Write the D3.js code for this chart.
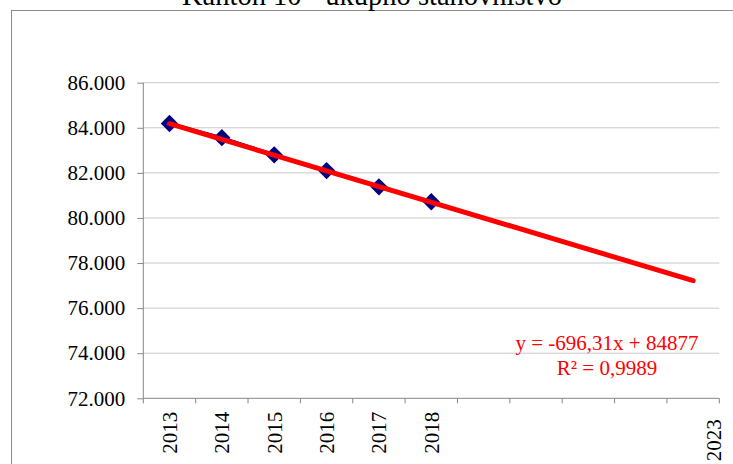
<!DOCTYPE html>
<html lang="bs">
<head>
  <meta charset="UTF-8">
  <title>Kanton 10 - ukupno stanovništvo</title>
  <script src="https://d3js.org/d3.v7.min.js"></script>
  <style>
    body {
      margin: 0;
      background: #fff;
      overflow: hidden;
    }
    svg {
      display: block;
    }
    svg text {
      font-family: "Liberation Serif", "Times New Roman", serif;
    }
    .grid line {
      stroke: #c8c8c8;
      stroke-width: 1;
    }
    .axis-line {
      stroke: #868686;
      stroke-width: 1;
    }
  </style>
</head>
<body>
  <svg id="chart"></svg>

  <script>
    // categories on the x axis (trend forecast runs to 2023)
    const years = ["2013", "2014", "2015", "2016", "2017", "2018",
                   "2019", "2020", "2021", "2022", "2023"];
    const shownYears = ["2013", "2014", "2015", "2016", "2017", "2018", "2023"];
    // population values
    const dataYears = ["2013", "2014", "2015", "2016", "2017", "2018"];
    const population = [84190, 83560, 82800, 82100, 81380, 80720];
    // linear trend from the chart label
    const trendSlope = -696.31;
    const trendIntercept = 84877;
    const trendText = ["y = -696,31x + 84877", "R\u00b2 = 0,9989"];
    const yTicks = [72000, 74000, 76000, 78000, 80000, 82000, 84000, 86000];
    const title = "Kanton 10 - ukupno stanovništvo";

    const W = 733, H = 464;
    const plot = { left: 143.3, right: 719.3, top: 82.7, bottom: 398.3 };

    const svg = d3.select("#chart")
      .attr("width", W)
      .attr("height", H);

    // outer chart frame (runs off the right/bottom edge)
    svg.append("rect")
      .attr("x", 11.5)
      .attr("y", 10.5)
      .attr("width", W + 20)
      .attr("height", H + 20)
      .attr("fill", "#fff")
      .attr("stroke", "#8c8c8c");

    svg.append("text")
      .attr("x", 372)
      .attr("y", 4.5)
      .attr("text-anchor", "middle")
      .attr("font-size", 28.5)
      .attr("fill", "#000")
      .text(title);

    const x = d3.scaleBand()
      .domain(years)
      .range([plot.left, plot.right])
      .padding(0);

    const y = d3.scaleLinear()
      .domain([72000, 86000])
      .range([plot.bottom, plot.top]);

    const fmt = d3.formatLocale({
      decimal: ",", thousands: ".", grouping: [3], currency: ["", ""]
    }).format(",");

    // horizontal gridlines
    svg.append("g")
      .attr("class", "grid")
      .selectAll("line")
      .data(yTicks.filter(d => d > 72000))
      .join("line")
      .attr("x1", plot.left)
      .attr("x2", plot.right)
      .attr("y1", d => y(d))
      .attr("y2", d => y(d));

    // y axis
    const yAxis = svg.append("g")
      .attr("transform", `translate(${plot.left},0)`)
      .call(d3.axisLeft(y).tickValues(yTicks).tickSize(6).tickPadding(12).tickFormat(fmt))
      .attr("font-family", null)
      .attr("font-size", 21);
    yAxis.select(".domain").remove();
    yAxis.selectAll(".tick line").attr("stroke", "#868686");
    yAxis.selectAll(".tick text").attr("fill", "#000");

    svg.append("line")
      .attr("class", "axis-line")
      .attr("x1", plot.left).attr("x2", plot.left)
      .attr("y1", plot.top).attr("y2", plot.bottom);
    svg.append("line")
      .attr("class", "axis-line")
      .attr("x1", plot.left).attr("x2", plot.right)
      .attr("y1", plot.bottom).attr("y2", plot.bottom);

    // x tick marks at category boundaries
    const bounds = years.map(d => x(d)).concat([x(years[years.length - 1]) + x.bandwidth()]);
    svg.append("g")
      .selectAll("line")
      .data(bounds)
      .join("line")
      .attr("class", "axis-line")
      .attr("x1", d => d).attr("x2", d => d)
      .attr("y1", plot.bottom).attr("y2", plot.bottom + 5);

    // rotated year labels
    const lastYear = years[years.length - 1];
    svg.append("g")
      .selectAll("text")
      .data(shownYears)
      .join("text")
      .attr("transform", d => {
        const cx = x(d) + x.bandwidth() / 2 + (d === lastYear ? 20.5 : 0);
        const ty = plot.bottom + (d === lastYear ? 21 : 13.5);
        return `translate(${cx},${ty}) rotate(-90)`;
      })
      .attr("dy", "0.35em")
      .attr("text-anchor", "end")
      .attr("font-size", 21)
      .attr("fill", "#000")
      .text(d => d);

    const cx = d => x(d) + x.bandwidth() / 2;
    const series = dataYears.map((d, i) => ({ year: d, value: population[i] }));

    // data line + diamond markers
    svg.append("path")
      .datum(series)
      .attr("fill", "none")
      .attr("stroke", "#000080")
      .attr("stroke-width", 3)
      .attr("d", d3.line().x(d => cx(d.year)).y(d => y(d.value)));

    svg.append("g")
      .selectAll("path")
      .data(series)
      .join("path")
      .attr("transform", d => `translate(${cx(d.year)},${y(d.value)}) rotate(45)`)
      .attr("d", d3.symbol(d3.symbolSquare, 150))
      .attr("fill", "#000080");

    // linear trendline, x = 1 .. 11
    const trend = years.map((d, i) => ({ year: d, value: trendSlope * (i + 1) + trendIntercept }));
    svg.append("path")
      .datum([trend[0], trend[trend.length - 1]])
      .attr("fill", "none")
      .attr("stroke", "#ff0000")
      .attr("stroke-width", 5)
      .attr("stroke-linecap", "round")
      .attr("d", d3.line().x(d => cx(d.year)).y(d => y(d.value)));

    // trend equation
    svg.append("g")
      .selectAll("text")
      .data(trendText)
      .join("text")
      .attr("x", 607)
      .attr("y", (d, i) => 350 + i * 25)
      .attr("text-anchor", "middle")
      .attr("font-size", 21)
      .attr("fill", "#ff0000")
      .text(d => d);
  </script>
</body>
</html>
